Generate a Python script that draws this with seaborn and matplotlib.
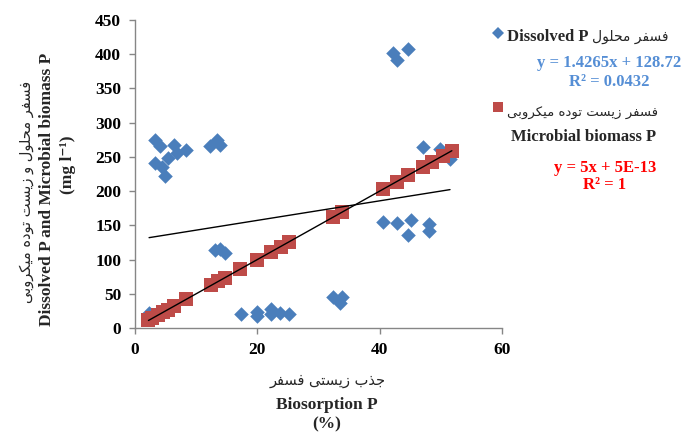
import numpy as np
import pandas as pd
import matplotlib
matplotlib.use('Agg')
import matplotlib.pyplot as plt
import seaborn as sns
from matplotlib.lines import Line2D

# ---------------- data ----------------
blue_x = [2.3, 3.3, 4.1, 6.4, 8.4, 6.8, 5.4, 3.3, 4.4, 4.9, 12.3, 13.4, 13.9,
          13.1, 13.9, 14.7, 17.3, 19.9, 19.9, 22.3, 22.3, 23.7, 25.2,
          32.4, 33.8, 33.5, 40.6, 42.9, 45.1, 44.6, 48.0, 48.1,
          42.1, 42.9, 44.6, 47.1, 49.9, 51.5]
blue_y = [22, 274, 266, 267, 260, 256, 248, 241, 235, 222, 266, 274, 268,
          114, 115, 109, 21, 23, 18, 28, 20, 22, 21,
          46, 45, 36, 155, 153, 158, 136, 152, 142,
          402, 391, 407, 265, 262, 247]
red_x = [2.2, 2.8, 3.8, 4.6, 5.4, 6.3, 8.4, 12.5, 13.6, 14.7, 17.2, 19.9,
         22.3, 23.8, 25.2, 32.4, 33.8, 40.6, 42.8, 44.7, 47.1, 48.5, 50.4, 51.8]
red_y = [11, 14, 19, 23, 27, 31.5, 42, 62.5, 68, 73.5, 86, 99.5,
         111.5, 119, 126, 162, 169, 203, 214, 223.5, 235.5, 242.5, 252, 259]

blue_slope, blue_intercept = 1.4265, 128.72
red_slope, red_intercept = 5.0, 5e-13

x_ticks = [0, 20, 40, 60]
y_ticks = [0, 50, 100, 150, 200, 250, 300, 350, 400, 450]

fa_y_label = "فسفر محلول و زیست توده میکروبی"
en_y_label = "Dissolved P and Microbial biomass P"
unit_y_label = "(mg l⁻¹)"
fa_x_label = "جذب زیستی فسفر"
en_x_label = "Biosorption P"
unit_x_label = "(%)"
fa_blue = "فسفر محلول"
en_blue = "Dissolved P"
fa_red = "فسفر زیست توده میکروبی"
en_red = "Microbial biomass P"
blue_eq = "y = 1.4265x + 128.72"
blue_r2 = "R² = 0.0432"
red_eq = "y = 5x + 5E-13"
red_r2 = "R² = 1"

# ------------- Persian shaping (presentation forms, visual order) -------------
FORMS = {
    'ب': ('\uFE8F', '\uFE90', '\uFE91', '\uFE92'),
    'ت': ('\uFE95', '\uFE96', '\uFE97', '\uFE98'),
    'ج': ('\uFE9D', '\uFE9E', '\uFE9F', '\uFEA0'),
    'ح': ('\uFEA1', '\uFEA2', '\uFEA3', '\uFEA4'),
    'د': ('\uFEA9', '\uFEAA'),
    'ذ': ('\uFEAB', '\uFEAC'),
    'ر': ('\uFEAD', '\uFEAE'),
    'ز': ('\uFEAF', '\uFEB0'),
    'س': ('\uFEB1', '\uFEB2', '\uFEB3', '\uFEB4'),
    'ف': ('\uFED1', '\uFED2', '\uFED3', '\uFED4'),
    'ل': ('\uFEDD', '\uFEDE', '\uFEDF', '\uFEE0'),
    'م': ('\uFEE1', '\uFEE2', '\uFEE3', '\uFEE4'),
    'ه': ('\uFEE9', '\uFEEA', '\uFEEB', '\uFEEC'),
    'و': ('\uFEED', '\uFEEE'),
    'ی': ('\uFBFC', '\uFBFD', '\uFBFE', '\uFBFF'),
    'ک': ('\uFB8E', '\uFB8F', '\uFB90', '\uFB91'),
}
RIGHT_ONLY = set('ادذرزژو')


def shape(s):
    out = []
    n = len(s)
    for i, c in enumerate(s):
        if c not in FORMS:
            out.append(c)
            continue
        prev = s[i - 1] if i > 0 else ''
        nxt = s[i + 1] if i < n - 1 else ''
        jp = prev in FORMS and prev not in RIGHT_ONLY
        jn = nxt in FORMS and c not in RIGHT_ONLY
        f = FORMS[c]
        if jp and jn:
            ch = f[3]
        elif jp:
            ch = f[1]
        elif jn:
            ch = f[2]
        else:
            ch = f[0]
        out.append(ch)
    return ''.join(out)[::-1]


# ---------------- figure ----------------
sns.set_theme(style='white')
plt.rcParams['font.family'] = ['Liberation Serif', 'DejaVu Sans']

W, H = 687, 432
fig = plt.figure(figsize=(W / 100, H / 100), dpi=100)
ax = fig.add_axes([135 / W, 1 - 328 / H, (502 - 135) / W, (328 - 20) / H])

BLUE = '#4A7EBB'
RED = '#BE4B48'
GRAY = '#868686'

df_blue = pd.DataFrame({'x': blue_x, 'y': blue_y})
df_red = pd.DataFrame({'x': red_x, 'y': red_y})

sns.scatterplot(data=df_blue, x='x', y='y', ax=ax, marker='D', s=55,
                color=BLUE, edgecolor=BLUE, linewidth=0, zorder=3, legend=False)
sns.scatterplot(data=df_red, x='x', y='y', ax=ax, marker='s', s=110,
                color=RED, edgecolor=RED, linewidth=0, zorder=4, legend=False)

bx = np.array([min(blue_x), max(blue_x)])
rx = np.array([min(red_x), max(red_x)])
ax.plot(bx, blue_slope * bx + blue_intercept, color='black', lw=1, zorder=5)
ax.plot(rx, red_slope * rx + red_intercept, color='black', lw=1, zorder=5)

ax.set_xlim(0, 60)
ax.set_ylim(0, 450)
ax.set_xticks(x_ticks)
ax.set_yticks(y_ticks)
ax.set_xlabel('')
ax.set_ylabel('')
for side in ['top', 'right']:
    ax.spines[side].set_visible(False)
for side in ['left', 'bottom']:
    ax.spines[side].set_color(GRAY)
    ax.spines[side].set_linewidth(1)
ax.tick_params(axis='both', direction='out', length=4, width=1, color=GRAY,
               labelsize=12.5, labelcolor='black')
ax.tick_params(axis='y', pad=6, left=True)
ax.tick_params(axis='x', pad=6, bottom=True)
for lab in ax.get_xticklabels() + ax.get_yticklabels():
    lab.set_fontweight('bold')
    lab.set_family(['Liberation Serif', 'DejaVu Sans'])


def ftext(px, py, s, **kw):
    fig.text(px / W, 1 - py / H, s, **kw)


FA = ['DejaVu Sans']
EN = ['Liberation Serif', 'DejaVu Sans']

# y-axis label lines
ftext(27, 192, shape(fa_y_label), rotation=90, ha='center', va='center',
      family=FA, fontsize=10.5)
ftext(47, 189, en_y_label, rotation=90, ha='center', va='center',
      family=EN, fontsize=12.5, fontweight='bold')
ftext(68, 165, unit_y_label, rotation=90, ha='center', va='center',
      family=EN, fontsize=12.5, fontweight='bold')

# x-axis label lines
ftext(328, 380, shape(fa_x_label), ha='center', va='center',
      family=FA, fontsize=10.5)
ftext(327, 405, en_x_label, ha='center', va='center',
      family=EN, fontsize=12.5, fontweight='bold')
ftext(327, 424, unit_x_label, ha='center', va='center',
      family=EN, fontsize=12.5, fontweight='bold')

# legend block
fig.add_artist(Line2D([498 / W], [1 - 33 / H], marker='D', markersize=6.5,
                      color=BLUE, markeredgewidth=0, transform=fig.transFigure))
ftext(507, 37, en_blue, ha='left', va='center', family=EN, fontsize=12,
      fontweight='bold')
ftext(668, 37, shape(fa_blue), ha='right', va='center', family=FA, fontsize=10)
ftext(609, 63, blue_eq, ha='center', va='center', family=EN, fontsize=12,
      fontweight='bold', color='#558ED5')
ftext(609, 82, blue_r2, ha='center', va='center', family=EN, fontsize=12,
      fontweight='bold', color='#558ED5')

fig.add_artist(Line2D([498 / W], [1 - 107 / H], marker='s', markersize=7.5,
                      color=RED, markeredgewidth=0, transform=fig.transFigure))
ftext(658, 113, shape(fa_red), ha='right', va='center', family=FA, fontsize=9.5)
ftext(584, 137, en_red, ha='center', va='center', family=EN, fontsize=12,
      fontweight='bold')
ftext(605, 168, red_eq, ha='center', va='center', family=EN, fontsize=12,
      fontweight='bold', color='#FF0000')
ftext(605, 185, red_r2, ha='center', va='center', family=EN, fontsize=12,
      fontweight='bold', color='#FF0000')

fig.savefig('out.png', dpi=100)
